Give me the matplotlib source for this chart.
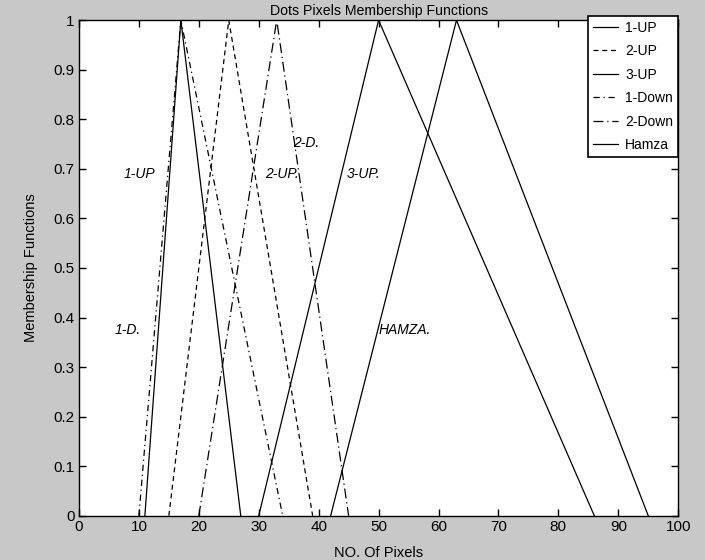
import matplotlib
matplotlib.use('Agg')
import matplotlib.pyplot as plt
from matplotlib.ticker import FormatStrFormatter, MultipleLocator

# triangle membership functions: (start, peak, end) in pixels
names = ['1-UP', '2-UP', '3-UP', '1-Down', '2-Down', 'Hamza']
one_up = [11, 17, 27]
two_up = [15, 25, 39]
three_up = [30, 50, 86]
one_down = [10, 17, 34]
two_down = [20, 33, 45]
hamza = [42, 63, 95]
membership = [0, 1, 0]

styles = ['-', (0, (4, 3)), '-', (0, (5, 3, 1, 3)), (0, (8, 3, 1, 3)), '-']

# in-plot annotations
ann_text = ['1-UP', '2-UP.', '3-UP.', '1-D.', '2-D.', 'HAMZA.']
ann_x = [7.4, 31.0, 44.7, 6.0, 35.7, 50.0]
ann_y = [0.69, 0.69, 0.69, 0.375, 0.752, 0.375]

plt.rcParams['font.family'] = ['Liberation Sans', 'DejaVu Sans']

fig = plt.figure(figsize=(7.05, 5.6), dpi=100, facecolor='#c8c8c8')
ax = fig.add_axes([0.112, 0.079, 0.850, 0.885])
ax.set_facecolor('white')

series = [one_up, two_up, three_up, one_down, two_down, hamza]
for pts, ls, nm in zip(series, styles, names):
  ax.plot(pts, membership, color='black', linestyle=ls, linewidth=0.9, label=nm)

for t, x, y in zip(ann_text, ann_x, ann_y):
  ax.text(x, y, t, fontsize=10, style='italic', va='center', ha='left')

ax.set_xlim(0, 100)
ax.set_ylim(0, 1)
ax.xaxis.set_major_locator(MultipleLocator(10))
ax.yaxis.set_major_locator(MultipleLocator(0.1))
ax.yaxis.set_major_formatter(FormatStrFormatter('%g'))
ax.tick_params(direction='in', top=True, right=True, length=5, width=1,
               labelsize=11, pad=3)
for sp in ax.spines.values():
  sp.set_linewidth(1)

ax.set_title('Dots Pixels Membership Functions', fontsize=10.2, pad=4)
ax.set_xlabel('NO. Of Pixels', fontsize=10.5, labelpad=9)
ax.set_ylabel('Membership Functions', fontsize=10.5, labelpad=11)

leg = ax.legend(loc='upper right', bbox_to_anchor=(678/705, 1 - 16/560),
                bbox_transform=fig.transFigure,
                fontsize=10, frameon=True, fancybox=False,
                edgecolor='black', framealpha=1, handlelength=1.8, handletextpad=0.5,
                labelspacing=0.68, borderpad=0.35, borderaxespad=0)
leg.get_frame().set_linewidth(1.2)

fig.savefig('out.png', dpi=100, facecolor=fig.get_facecolor())
